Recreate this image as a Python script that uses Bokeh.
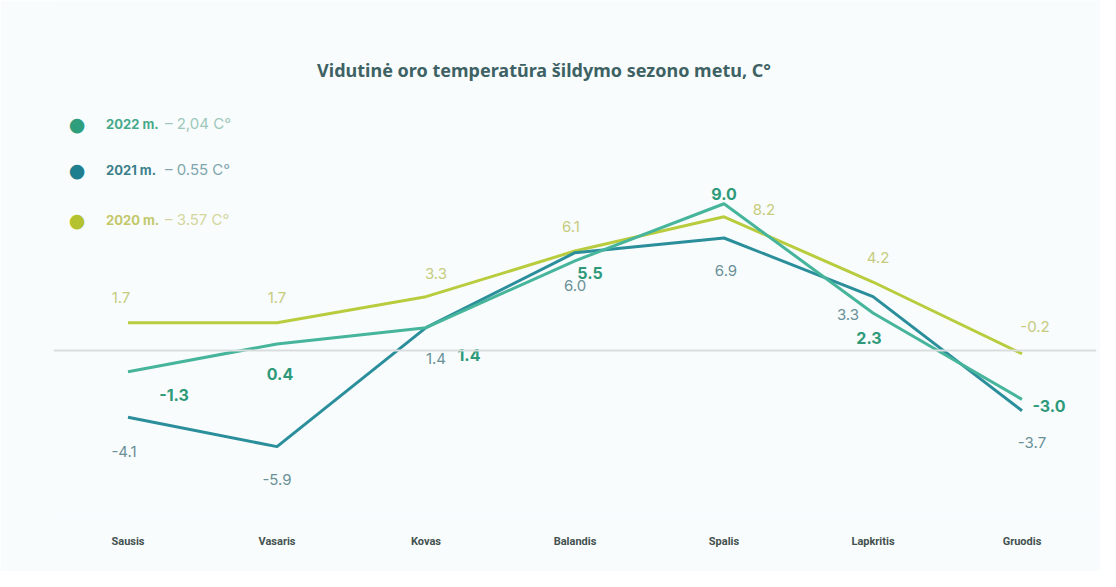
from bokeh.plotting import figure
from bokeh.models import FactorRange, Range1d, Span, Label, ColumnDataSource
from bokeh.embed import file_html
from bokeh.resources import INLINE
from bokeh.core.properties import value

months = ["Sausis", "Vasaris", "Kovas", "Balandis", "Spalis", "Lapkritis", "Gruodis"]
t2022 = [-1.3, 0.4, 1.4, 5.5, 9.0, 2.3, -3.0]
t2021 = [-4.1, -5.9, 1.4, 6.0, 6.9, 3.3, -3.7]
t2020 = [1.7, 1.7, 3.3, 6.1, 8.2, 4.2, -0.2]
legend_years = ["2022 m.", "2021 m.", "2020 m."]
legend_avgs = ["– 2,04 C°", "– 0.55 C°", "– 3.57 C°"]
title_text = "Vidutinė oro temperatūra šildymo sezono metu, C°"

BG = "#f8fcfd"
C22, C21, C20 = "#46b59b", "#2a8e9b", "#b9cc3e"

p = figure(width=1100, height=571, x_range=FactorRange(*months),
           y_range=Range1d(-9.94, 21.47), output_backend="svg",
           toolbar_location=None, min_border_left=53, min_border_right=4,
           min_border_top=0, min_border_bottom=59)
p.background_fill_color = BG
p.border_fill_color = BG
p.outline_line_color = None
p.xgrid.visible = False
p.ygrid.visible = False
p.yaxis.visible = False
xa = p.xaxis[0]
xa.axis_line_color = None
xa.major_tick_line_color = None
xa.minor_tick_line_color = None
xa.major_tick_out = 0
xa.major_label_standoff = 22
xa.major_label_text_font = "Roboto"
xa.major_label_text_font_style = "bold"
xa.major_label_text_font_size = "11px"
xa.major_label_text_color = "#44514f"

p.add_layout(Span(location=0, dimension="width", line_color="#d9dddd", line_width=2))

src = ColumnDataSource(dict(m=months, a=t2022, b=t2021, c=t2020,
                            la=[f"{v:.1f}" for v in t2022],
                            lb=[f"{v:.1f}" for v in t2021],
                            lc=[f"{v:.1f}" for v in t2020]))

p.line("m", "c", source=src, line_color=C20, line_width=3)
p.line("m", "b", source=src, line_color=C21, line_width=3)
p.line("m", "a", source=src, line_color=C22, line_width=3)

# label offsets (pixels)
dx22 = [46, 3, 43, 15, 0, -4, 27]
dy22 = [23, 30, 27, 12, -10, 25, 7]
dx21 = [-4, 0, 10, 0, 2, -25, 10]
dy21 = [34, 33, 31, 33, 33, 18, 32]
dx20 = [-7, 0, 10, -4, 40, 5, 13]
dy20 = [-25, -25, -23, -25, -7, -25, -27]

def labels(ycol, tcol, dx, dy, color, size, style):
    s = ColumnDataSource(dict(m=months, y=src.data[ycol], t=src.data[tcol], dx=dx, dy=dy))
    p.text("m", "y", text="t", source=s, x_offset="dx", y_offset="dy",
           text_color=color, text_font=value("Inter"), text_font_size=size,
           text_font_style=style, text_align="center", text_baseline="middle")

labels("c", "lc", dx20, dy20, "#c6cb7e", "15px", "normal")
labels("b", "lb", dx21, dy21, "#6a9097", "15px", "normal")
labels("a", "la", dx22, dy22, "#2f9a7a", "16px", "bold")

# title and legend (screen units relative to frame)
def sx(ix):
    return ix - 60.5
def sy(iy):
    return 520 - iy

p.add_layout(Label(x=sx(551), y=sy(77), x_units="screen", y_units="screen",
                   text=title_text, text_align="center", text_baseline="middle",
                   text_font="Noto Sans", text_font_style="bold",
                   text_font_size="18px", text_color="#3e6264"))

dot_cols = ["#2e9e7d", "#1f7f8e", "#b3c22e"]
year_cols = ["#46a98a", "#3a7f8a", "#c2c86a"]
avg_cols = ["#9cc8ba", "#7fa6ad", "#d4d69c"]
leg_y = [131, 177, 227]
for i in range(3):
    p.add_layout(Label(x=sx(84), y=sy(leg_y[i]), x_units="screen", y_units="screen",
                       text="●", text_align="center", text_baseline="middle",
                       text_font="DejaVu Sans",
                       text_font_size="19px", text_color=dot_cols[i]))
    p.add_layout(Label(x=sx(113), y=sy(leg_y[i]), x_units="screen", y_units="screen",
                       text=legend_years[i], text_align="left", text_baseline="middle",
                       text_font="Inter", text_font_style="bold",
                       text_font_size="13px", text_color=year_cols[i]))
    p.add_layout(Label(x=sx(172), y=sy(leg_y[i]), x_units="screen", y_units="screen",
                       text=legend_avgs[i], text_align="left", text_baseline="middle",
                       text_font="Inter", text_font_size="15px", text_color=avg_cols[i]))

open("out.html", "w").write(file_html(p, INLINE))
